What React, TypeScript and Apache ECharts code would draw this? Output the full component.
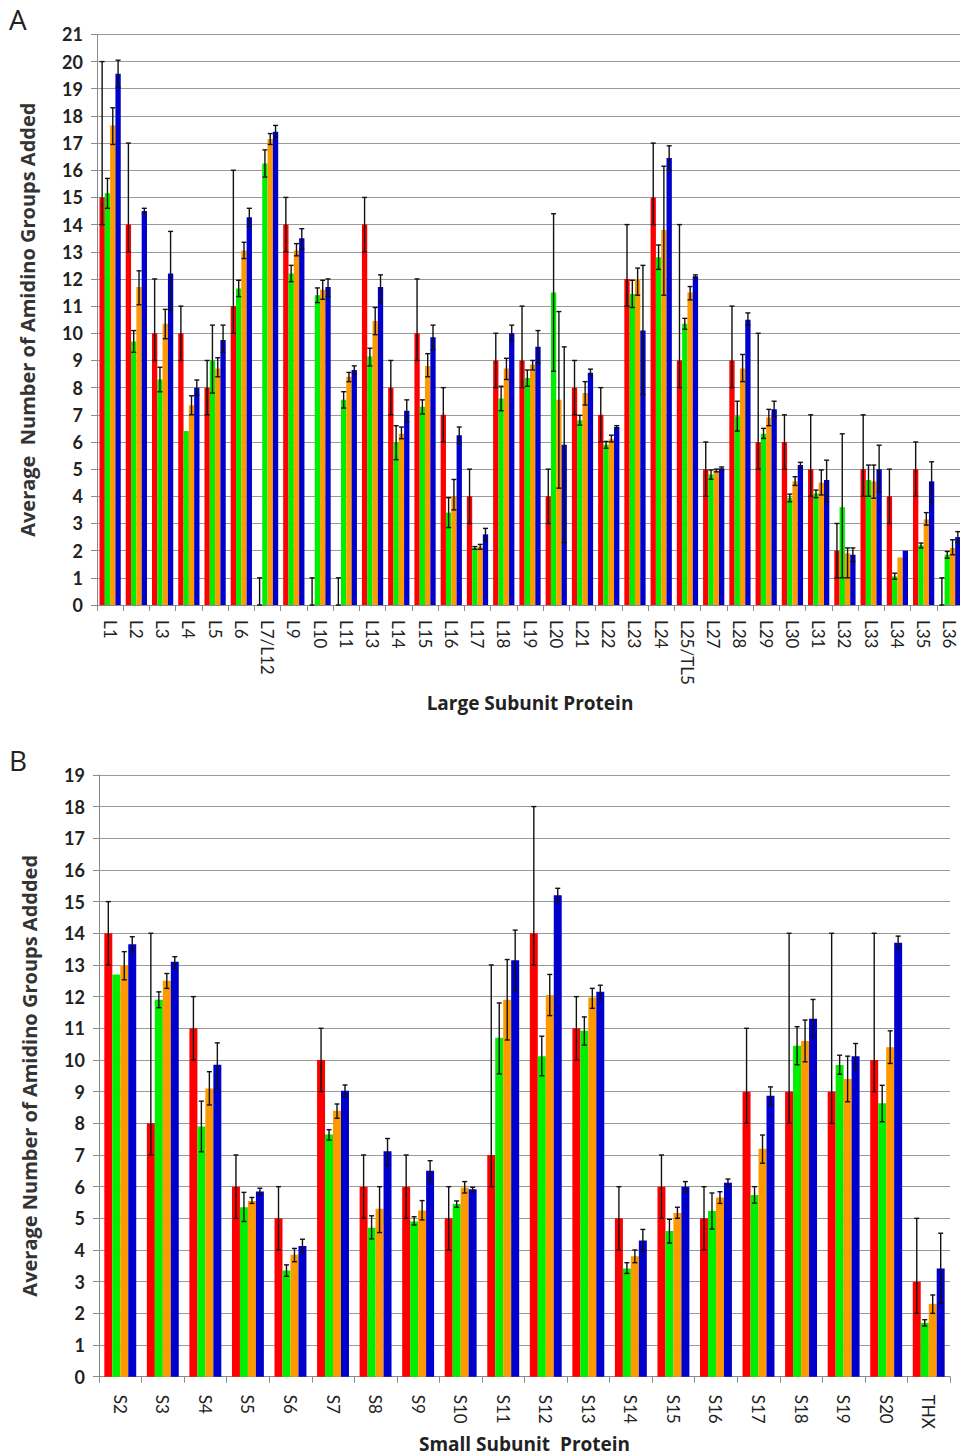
import React, { useEffect, useRef } from "react";
import * as echarts from "echarts";

// ---------- Panel A : large subunit ----------
const catsA = ["L1","L2","L3","L4","L5","L6","L7/L12","L9","L10","L11","L13","L14","L15","L16","L17","L18","L19","L20","L21","L22","L23","L24","L25/TL5","L27","L28","L29","L30","L31","L32","L33","L34","L35","L36"];

const aRed   = [15,14,10,10,8,11,0,14,0,0,14,8,10,7,4,9,9,4,8,7,12,15,9,5,9,6,6,5,2,5,4,5,0];
const aRedLo = [14,13,9,9,7,10,0,13,0,0,13,7,9,6,3,8,8,3,7,6,11,14,8,4,8,5,5,4,1,4,3,4,0];
const aRedHi = [20,17,12,11,9,16,1,15,1,1,15,9,12,8,5,10,11,5,9,8,14,17,14,6,11,10,7,7,3,7,5,6,1];

const aGreen   = [15.15,9.7,8.3,6.4,9.0,11.65,16.25,12.2,11.4,7.55,9.15,6.0,7.3,3.4,2.1,7.6,8.35,11.5,6.8,5.9,11.45,12.8,10.35,4.8,6.95,6.3,3.95,4.1,3.6,4.6,1.05,2.2,1.85];
const aGreenLo = [14.6,9.3,7.85,6.4,7.8,11.35,15.75,11.9,11.13,7.25,8.8,5.35,7.03,2.85,2.05,7.15,8.05,8.6,6.62,5.77,10.95,12.35,10.15,4.63,6.4,6.13,3.8,3.95,1.0,4.0,0.95,2.1,1.72];
const aGreenHi = [15.7,10.1,8.75,6.4,10.3,11.95,16.75,12.5,11.67,7.85,9.45,6.6,7.55,3.95,2.15,8.05,8.65,14.4,6.98,6.02,11.95,13.25,10.55,4.97,7.5,6.5,4.08,4.23,6.3,5.15,1.17,2.28,1.97];

const aOrange   = [17.65,11.7,10.35,7.35,8.7,13.05,17.15,13.05,11.6,8.4,10.45,6.3,8.8,4.0,2.15,8.7,8.85,7.55,7.8,6.1,12.0,13.8,11.5,4.95,8.7,6.9,4.55,4.5,1.9,4.55,1.75,3.15,2.1];
const aOrangeLo = [16.95,11.05,9.8,7.0,8.4,12.75,16.95,12.85,11.25,8.22,9.95,6.12,8.4,3.5,2.05,8.3,8.65,4.3,7.36,6.0,11.4,11.4,11.23,4.9,8.22,6.6,4.4,4.05,1.0,3.93,1.75,2.94,1.85];
const aOrangeHi = [18.3,12.3,10.88,7.7,9.1,13.35,17.35,13.3,11.95,8.56,10.95,6.55,9.25,4.62,2.23,9.08,9.0,10.8,8.22,6.25,12.4,16.15,11.72,5.0,9.22,7.2,4.72,4.97,2.1,5.15,1.75,3.4,2.4];

const aBlue   = [19.55,14.5,12.2,8.0,9.75,14.27,17.42,13.5,11.7,8.65,11.7,7.15,9.85,6.25,2.6,10.0,9.5,5.9,8.55,6.55,10.1,16.45,12.1,5.03,10.5,7.2,5.15,4.6,1.85,5.0,2.0,4.55,2.5];
const aBlueLo = [19.05,14.4,10.85,7.73,9.3,13.92,17.22,13.1,11.35,8.5,11.1,6.75,9.4,5.95,2.35,9.73,8.9,2.3,8.45,6.5,7.75,16.0,12.05,4.98,10.3,6.93,5.03,3.8,1.6,4.17,2.0,3.77,2.3];
const aBlueHi = [20.05,14.6,13.75,8.28,10.3,14.6,17.65,13.85,12.0,8.8,12.15,7.55,10.3,6.55,2.82,10.3,10.1,9.5,8.68,6.6,12.5,16.9,12.15,5.08,10.75,7.5,5.25,5.33,2.1,5.88,2.0,5.27,2.7];

// ---------- Panel B : small subunit ----------
const catsB = ["S2","S3","S4","S5","S6","S7","S8","S9","S10","S11","S12","S13","S14","S15","S16","S17","S18","S19","S20","THX"];

const bRed   = [14,8,11,6,5,10,6,6,5,7,14,11,5,6,5,9,9,9,10,3];
const bRedLo = [13,7,10,5,4,9,5,5,4,6,13,10,4,5,4,8,8,8,9,2];
const bRedHi = [15,14,12,7,6,11,7,7,6,13,18,12,6,7,6,11,14,14,14,5];

const bGreen   = [12.7,11.9,7.9,5.35,3.35,7.65,4.7,4.9,5.45,10.7,10.12,10.92,3.42,4.6,5.23,5.74,10.45,9.84,8.63,1.7];
const bGreenLo = [12.7,11.65,7.1,4.9,3.17,7.47,4.35,4.79,5.35,9.56,9.5,10.47,3.26,4.22,4.66,5.48,9.85,9.55,8.05,1.6];
const bGreenHi = [12.7,12.15,8.7,5.82,3.53,7.8,5.08,5.05,5.55,11.8,10.75,11.36,3.6,4.97,5.8,6.0,11.05,10.15,9.2,1.8];

const bOrange   = [13.0,12.5,9.1,5.55,3.85,8.4,5.3,5.25,5.97,11.9,12.05,11.97,3.8,5.17,5.66,7.2,10.6,9.4,10.4,2.3];
const bOrangeLo = [12.53,12.26,8.58,5.47,3.63,8.16,4.55,4.95,5.8,10.63,11.4,11.63,3.6,5.0,5.47,6.74,9.94,8.68,9.89,2.0];
const bOrangeHi = [13.42,12.73,9.63,5.66,4.05,8.61,6.0,5.56,6.16,13.17,12.7,12.26,4.0,5.35,5.84,7.63,11.26,10.12,10.92,2.58];

const bBlue   = [13.65,13.1,9.85,5.85,4.13,9.03,7.12,6.5,5.92,13.15,15.2,12.15,4.3,6.0,6.12,8.87,11.3,10.12,13.7,3.42];
const bBlueLo = [13.42,12.9,9.1,5.74,3.92,8.84,6.68,6.16,5.84,12.2,14.99,11.94,3.95,5.84,6.0,8.58,10.73,9.73,13.52,2.32];
const bBlueHi = [13.89,13.26,10.54,5.95,4.34,9.21,7.52,6.82,5.98,14.1,15.42,12.36,4.65,6.16,6.24,9.15,11.91,10.52,13.91,4.53];

const COLORS = ["#ff0000", "#00ee00", "#ff9900", "#0000cc"];
const FONT = "Lato, 'Open Sans', sans-serif";
const TITLE_FONT = "'Open Sans', Lato, sans-serif";

function errRender(pos: number, gapFrac: number) {
  return (params: any, api: any) => {
    const lo = api.value(1);
    const hi = api.value(2);
    if (hi - lo < 0.001) return null;
    const x = api.value(0);
    const pLo = api.coord([x, lo]);
    const pHi = api.coord([x, hi]);
    const band = api.size([1, 0])[0];
    const bw = (band * (1 - gapFrac)) / 4;
    const cx = pLo[0] + (pos - 1.5) * bw;
    const cap = 2.5;
    const st = { stroke: "#111", lineWidth: 1.4 };
    return {
      type: "group",
      children: [
        { type: "line", shape: { x1: cx, y1: pLo[1], x2: cx, y2: pHi[1] }, style: st },
        { type: "line", shape: { x1: cx - cap, y1: pHi[1], x2: cx + cap, y2: pHi[1] }, style: st },
        { type: "line", shape: { x1: cx - cap, y1: pLo[1], x2: cx + cap, y2: pLo[1] }, style: st },
      ],
    };
  };
}

function buildSeries(idx: number, vals: number[][], los: number[][], his: number[][], gap: number) {
  const out: any[] = [];
  vals.forEach((v, k) => {
    out.push({
      type: "bar",
      xAxisIndex: idx,
      yAxisIndex: idx,
      data: v,
      barGap: "0%",
      barCategoryGap: gap * 100 + "%",
      itemStyle: { color: COLORS[k] },
      z: 2,
    });
  });
  vals.forEach((v, k) => {
    out.push({
      type: "custom",
      xAxisIndex: idx,
      yAxisIndex: idx,
      renderItem: errRender(k, gap),
      encode: { x: 0, y: [1, 2] },
      data: v.map((_, i) => [i, los[k][i], his[k][i]]),
      z: 5,
    });
  });
  return out;
}

export default function App() {
  const ref = useRef<HTMLDivElement>(null);
  useEffect(() => {
    if (!ref.current) return;
    const chart = echarts.init(ref.current, null, { renderer: "svg" });
    const gapA = 0.19;
    const gapB = 0.25;
    const axisGray = "#8a8a8a";
    const yAxisCommon = (max: number, name: string) => ({
      type: "value",
      min: 0,
      max,
      interval: 1,
      axisLine: { show: true, lineStyle: { color: axisGray, width: 1 } },
      axisTick: { show: true, length: 6, lineStyle: { color: axisGray } },
      axisLabel: { fontFamily: FONT, fontWeight: "bold", fontSize: 18, color: "#222", margin: 14 },
      splitLine: { show: true, lineStyle: { color: "#9a9a9a", width: 1 } },
      name,
      nameLocation: "middle",
      nameGap: 60,
      nameRotate: 90,
      nameTextStyle: { fontFamily: TITLE_FONT, fontWeight: "bold", fontSize: 20, color: "#333" },
    });
    const xAxisCommon = (idx: number, data: string[], name: string, gap: number, margin: number) => ({
      type: "category",
      gridIndex: idx,
      data,
      axisLine: { show: true, lineStyle: { color: axisGray, width: 1 } },
      axisTick: { show: true, length: 6, lineStyle: { color: axisGray } },
      axisLabel: { rotate: -90, fontFamily: FONT, fontSize: 17, color: "#222", margin, interval: 0 },
      name,
      nameLocation: "middle",
      nameGap: gap,
      nameTextStyle: { fontFamily: TITLE_FONT, fontWeight: "bold", fontSize: 19, color: "#222" },
    });
    chart.setOption({
      animation: false,
      backgroundColor: "#ffffff",
      grid: [
        { left: 97, top: 34.4, width: 866, height: 570.6, outerBoundsMode: "none" },
        { left: 99, top: 774.9, width: 851, height: 601.8, outerBoundsMode: "none" },
      ],
      xAxis: [
        xAxisCommon(0, catsA, "Large Subunit Protein", 88, 15),
        xAxisCommon(1, catsB, "Small Subunit  Protein", 58, 18),
      ],
      yAxis: [
        { ...yAxisCommon(21, "Average  Number of Amidino Groups Added"), gridIndex: 0 },
        { ...yAxisCommon(19, "Average Number of Amidino Groups Addded"), gridIndex: 1 },
      ],
      graphic: [
        { type: "text", left: 9, top: 5, style: { text: "A", fontFamily: TITLE_FONT, fontSize: 28, fill: "#222" } },
        { type: "text", left: 9, top: 746, style: { text: "B", fontFamily: TITLE_FONT, fontSize: 28, fill: "#222" } },
      ],
      series: [
        ...buildSeries(0, [aRed, aGreen, aOrange, aBlue], [aRedLo, aGreenLo, aOrangeLo, aBlueLo], [aRedHi, aGreenHi, aOrangeHi, aBlueHi], gapA),
        ...buildSeries(1, [bRed, bGreen, bOrange, bBlue], [bRedLo, bGreenLo, bOrangeLo, bBlueLo], [bRedHi, bGreenHi, bOrangeHi, bBlueHi], gapB),
      ],
    });
    return () => chart.dispose();
  }, []);
  return (
    <div
      ref={ref}
      style={{ position: "absolute", left: 0, top: 0, width: 960, height: 1456, background: "#fff" }}
    />
  );
}
